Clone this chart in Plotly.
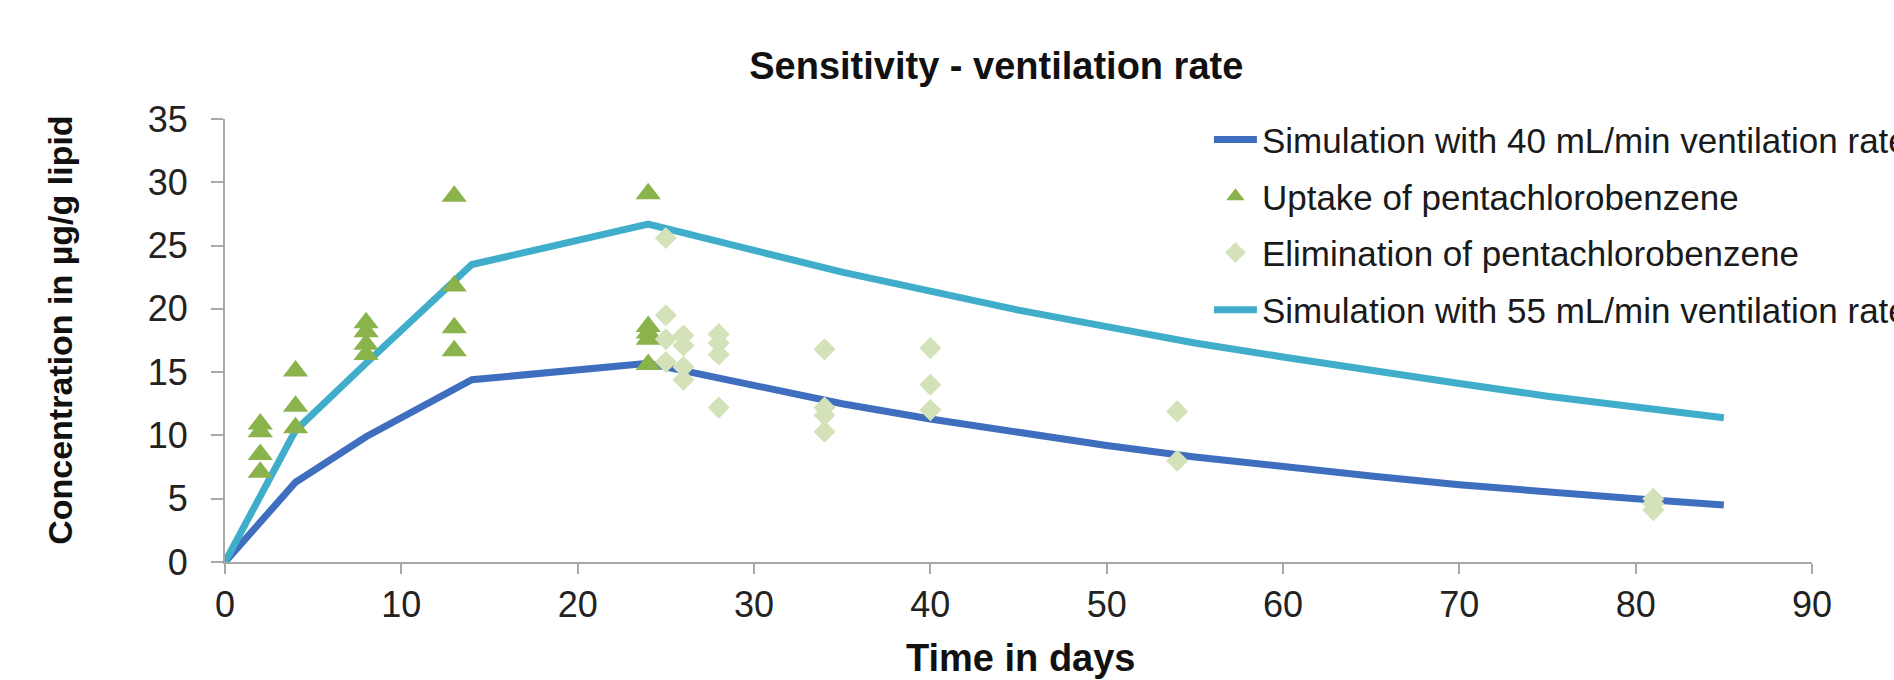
import plotly.graph_objects as go

# ---- data ----
sim_days = [0, 4, 8, 14, 24, 30, 35, 40, 45, 50, 55, 60, 65, 70, 75, 80, 85]
sim40 = [0, 6.3, 9.9, 14.4, 15.7, 13.9, 12.5, 11.3, 10.2, 9.2, 8.3, 7.5, 6.8, 6.1, 5.5, 5.0, 4.5]
sim55 = [0, 10.4, 15.7, 23.5, 26.7, 24.6, 22.9, 21.4, 19.9, 18.6, 17.3, 16.2, 15.1, 14.1, 13.1, 12.2, 11.4]

uptake_days = [2, 2, 2, 2, 4, 4, 4, 8, 8, 8, 8, 13, 13, 13, 13, 24, 24, 24, 24, 24]
uptake_conc = [10.9, 10.3, 8.5, 7.1, 15.1, 12.3, 10.6, 18.9, 18.2, 17.2, 16.4,
               28.9, 21.8, 18.5, 16.7, 29.1, 18.6, 18.1, 17.6, 15.6]

elim_days = [25, 25, 25, 25, 26, 26, 26, 26, 28, 28, 28, 28, 34, 34, 34, 34, 40, 40, 40, 54, 54, 81, 81, 81]
elim_conc = [25.6, 19.5, 17.6, 15.8, 17.9, 17.1, 15.4, 14.4, 18.0, 17.3, 16.4, 12.2,
             16.8, 12.2, 11.6, 10.3, 16.9, 14.0, 12.0, 11.9, 8.0, 5.0, 4.6, 4.1]

x_ticks = [0, 10, 20, 30, 40, 50, 60, 70, 80, 90]
y_ticks = [0, 5, 10, 15, 20, 25, 30, 35]

FONT = "Liberation Sans, Arial, sans-serif"
C40 = "#3F6EBF"
C55 = "#40ADCA"
CTRI = "#8AB34C"
CDIA = "#D3E2B9"

fig = go.Figure()
fig.add_trace(go.Scatter(x=sim_days, y=sim40, mode="lines", name="Simulation with 40 mL/min ventilation rate",
                         line=dict(color=C40, width=7), legend="legend"))
fig.add_trace(go.Scatter(x=sim_days, y=sim55, mode="lines", name="Simulation with 55 mL/min ventilation rate",
                         line=dict(color=C55, width=7), legend="legend4"))
fig.add_trace(go.Scatter(x=uptake_days, y=uptake_conc, mode="markers", name="Uptake of pentachlorobenzene",
                         marker=dict(symbol="triangle-up", size=22, color=CTRI, line=dict(width=0)),
                         legend="legend2"))
fig.add_trace(go.Scatter(x=elim_days, y=elim_conc, mode="markers", name="Elimination of pentachlorobenzene",
                         marker=dict(symbol="diamond", size=17, color=CDIA, line=dict(width=0)),
                         legend="legend3"))

def leg(y):
    return dict(x=0.620, y=y, xanchor="left", yanchor="middle", bgcolor="rgba(0,0,0,0)",
                font=dict(family=FONT, size=35, color="#1a1a1a"), itemwidth=43, visible=True)

fig.update_layout(
    width=1894, height=680,
    showlegend=True,
    margin=dict(l=225, r=82, t=119, b=118, autoexpand=False),
    paper_bgcolor="white", plot_bgcolor="white",
    title=dict(text="<b>Sensitivity - ventilation rate</b>", x=0.486, xref="paper", xanchor="center",
               y=0.903, yref="container", yanchor="middle",
               font=dict(family=FONT, size=38, color="#111")),
    legend=leg(0.953), legend2=leg(0.825), legend3=leg(0.698), legend4=leg(0.569),
    xaxis=dict(range=[0, 90], tickvals=x_ticks, ticks="outside", ticklen=10, tickwidth=2, tickcolor="#A8A8A8",
               showline=True, linecolor="#A8A8A8", linewidth=2, showgrid=False, zeroline=False,
               tickfont=dict(family=FONT, size=36, color="#222")),
    yaxis=dict(range=[0, 35], tickvals=y_ticks, ticks="outside", ticklen=12, tickwidth=2, tickcolor="#A8A8A8",
               showline=True, linecolor="#A8A8A8", linewidth=2, showgrid=False, zeroline=False,
               ticklabelstandoff=16,
               tickfont=dict(family=FONT, size=36, color="#222")),
    annotations=[
        dict(text="<b>Time in days</b>", x=0.5015, xref="paper", y=(562.3 - 658) / 443.3, yref="paper",
             showarrow=False, font=dict(family=FONT, size=38, color="#111"),
             xanchor="center", yanchor="middle"),
        dict(text="<b>Concentration in µg/g lipid</b>", x=-0.104, xref="paper", y=0.524, yref="paper",
             textangle=-90, showarrow=False, font=dict(family=FONT, size=34, color="#111"),
             xanchor="center", yanchor="middle"),
    ],
)

fig.write_html("out.html")
